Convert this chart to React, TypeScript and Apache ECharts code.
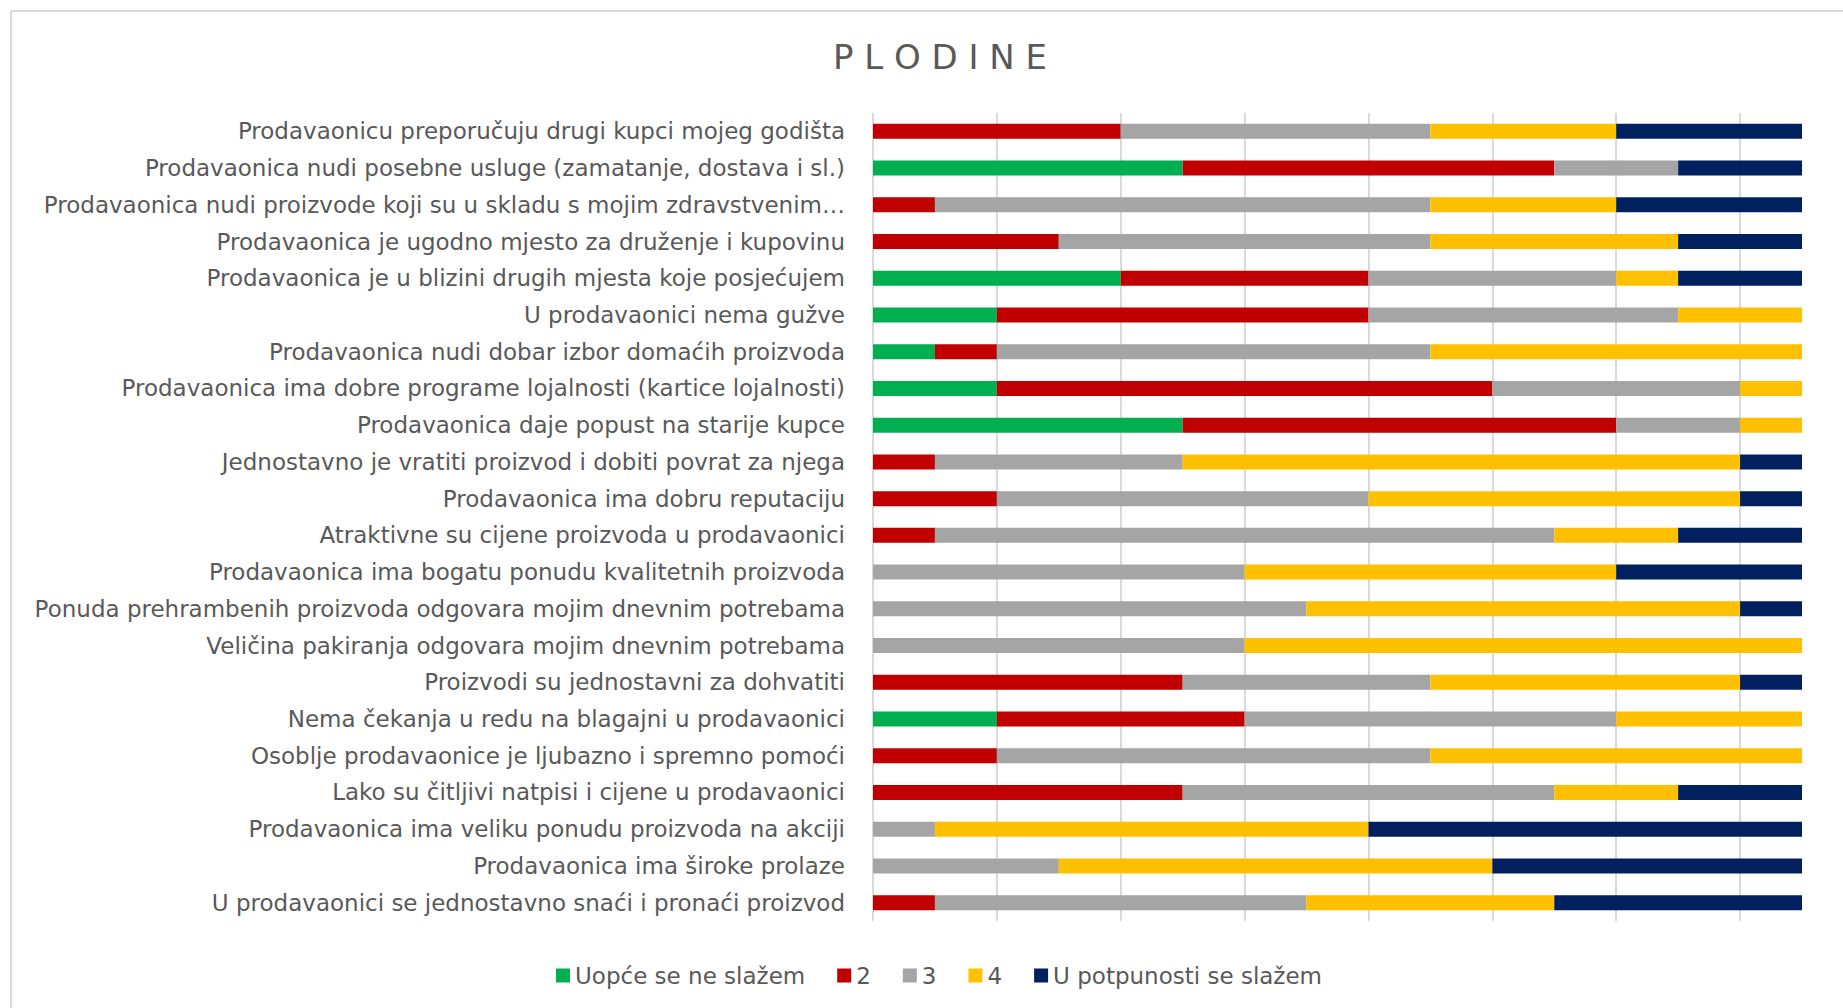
import React, { useEffect, useRef } from "react";
import * as echarts from "echarts";

const categories = [
  "Prodavaonicu preporučuju drugi kupci mojeg godišta",
  "Prodavaonica nudi posebne usluge (zamatanje, dostava i sl.)",
  "Prodavaonica nudi proizvode koji su u skladu s mojim zdravstvenim…",
  "Prodavaonica je ugodno mjesto za druženje i kupovinu",
  "Prodavaonica je u blizini drugih mjesta koje posjećujem",
  "U prodavaonici nema gužve",
  "Prodavaonica nudi dobar izbor domaćih proizvoda",
  "Prodavaonica ima dobre programe lojalnosti (kartice lojalnosti)",
  "Prodavaonica daje popust na starije kupce",
  "Jednostavno je vratiti proizvod i dobiti povrat za njega",
  "Prodavaonica ima dobru reputaciju",
  "Atraktivne su cijene proizvoda u prodavaonici",
  "Prodavaonica ima bogatu ponudu kvalitetnih proizvoda",
  "Ponuda prehrambenih proizvoda odgovara mojim dnevnim potrebama",
  "Veličina pakiranja odgovara mojim dnevnim potrebama",
  "Proizvodi su jednostavni za dohvatiti",
  "Nema čekanja u redu na blagajni u prodavaonici",
  "Osoblje prodavaonice je ljubazno i spremno pomoći",
  "Lako su čitljivi natpisi i cijene u prodavaonici",
  "Prodavaonica ima veliku ponudu proizvoda na akciji",
  "Prodavaonica ima široke prolaze",
  "U prodavaonici se jednostavno snaći i pronaći proizvod",
];

const seriesNames = ["Uopće se ne slažem", "2", "3", "4", "U potpunosti se slažem"];

const level1 = [0, 5, 0, 0, 4, 2, 1, 2, 5, 0, 0, 0, 0, 0, 0, 0, 2, 0, 0, 0, 0, 0];
const level2 = [4, 6, 1, 3, 4, 6, 1, 8, 7, 1, 2, 1, 0, 0, 0, 5, 4, 2, 5, 0, 0, 1];
const level3 = [5, 2, 8, 6, 4, 5, 7, 4, 2, 4, 6, 10, 6, 7, 6, 4, 6, 7, 6, 1, 3, 6];
const level4 = [3, 0, 3, 4, 1, 2, 6, 1, 1, 9, 6, 2, 6, 7, 9, 5, 3, 6, 2, 7, 7, 4];
const level5 = [3, 2, 3, 2, 2, 0, 0, 0, 0, 1, 1, 2, 3, 1, 0, 1, 0, 0, 2, 7, 5, 4];

const colors = ["#00B050", "#C00000", "#A5A5A5", "#FFC000", "#002060"];

const FONT = "'DejaVu Sans', sans-serif";

export default function App() {
  const ref = useRef<HTMLDivElement>(null);

  useEffect(() => {
    if (!ref.current) return;
    const chart = echarts.init(ref.current, null, { renderer: "svg" });
    const data = [level1, level2, level3, level4, level5];
    chart.setOption({
      animation: false,
      backgroundColor: "#ffffff",
      color: colors,
      title: {
        text: "P L O D I N E",
        left: 935,
        top: 35,
        textAlign: "center",
        textStyle: {
          fontFamily: FONT,
          fontSize: 34,
          fontWeight: "normal",
          color: "#595959",
        },
      },
      graphic: [
        {
          type: "rect",
          shape: { x: 11, y: 11, width: 1900, height: 1100 },
          style: { fill: "none", stroke: "#d9d9d9", lineWidth: 2 },
          silent: true,
          z: -10,
        },
      ],
      legend: {
        left: 556,
        top: 964,
        padding: 0,
        itemWidth: 14,
        itemHeight: 14,
        itemGap: 32,
        icon: "rect",
        textStyle: { fontFamily: FONT, fontSize: 23, color: "#595959" },
        data: seriesNames,
      },
      grid: {
        left: 873,
        right: 41,
        top: 113,
        bottom: 87,
        containLabel: false,
      },
      xAxis: {
        type: "value",
        min: 0,
        max: 15,
        interval: 2,
        axisLabel: { show: false },
        axisLine: { show: false },
        axisTick: { show: false },
        splitLine: {
          show: true,
          showMaxLine: false,
          lineStyle: { color: "#d9d9d9", width: 2 },
        },
      },
      yAxis: {
        type: "category",
        inverse: true,
        data: categories,
        axisLine: { show: false },
        axisTick: { show: false },
        axisLabel: {
          fontFamily: FONT,
          fontSize: 23,
          color: "#595959",
          margin: 28,
        },
      },
      series: seriesNames.map((name, i) => ({
        name,
        type: "bar",
        stack: "total",
        barWidth: 15,
        data: data[i],
        itemStyle: { color: colors[i] },
      })),
    });
    return () => chart.dispose();
  }, []);

  return (
    <div
      ref={ref}
      style={{ position: "fixed", left: 0, top: 0, width: 1843, height: 1008 }}
    />
  );
}
